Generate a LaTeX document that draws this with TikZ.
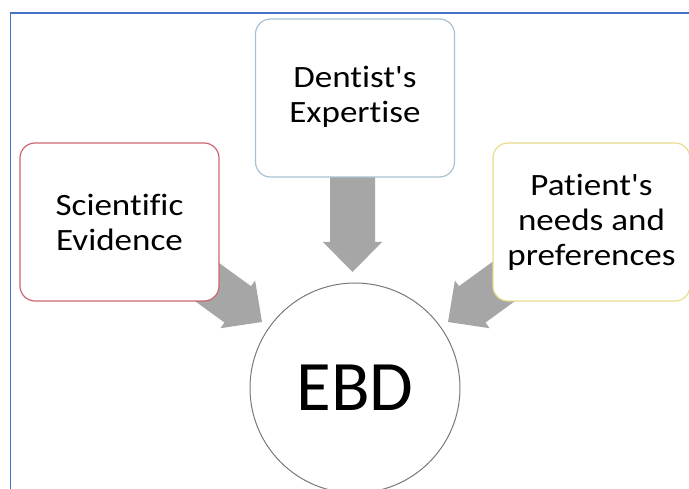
\documentclass[tikz,border=0pt]{standalone}
\usepackage{fontspec}
\setmainfont{Carlito}[Ligatures={NoCommon}]
\newfontfamily\boxfont[FakeStretch=1.13,Ligatures={NoCommon}]{Carlito}
\usetikzlibrary{calc}
\definecolor{frameblue}{HTML}{4472C4}
\definecolor{redb}{HTML}{CC6670}
\definecolor{blueb}{HTML}{A9C2D2}
\definecolor{yellowb}{HTML}{E6DE8A}
\definecolor{arrowgray}{HTML}{A6A6A6}
\definecolor{circgray}{HTML}{7A7A7A}
\tikzset{
  factorbox/.style={draw, line width=1.2pt, rounded corners=15pt, fill=white,
    minimum width=199pt, minimum height=158pt, align=center, inner sep=0pt,
    font=\boxfont\fontsize{31}{35}\selectfont},
  bigarrow/.style={fill=arrowgray, draw=none},
  ebdcircle/.style={circle, draw=circgray, line width=1pt, fill=white,
    minimum size=210pt, inner sep=0pt, font=\fontsize{71}{80}\selectfont}
}
% block arrow from #1 (tail) to #2 (tip)
\newcommand\blockarrow[2]{%
  \path coordinate (#1-base) at ($(#2)!30pt!(#1)$);
  \fill[bigarrow] ($(#1)!22.5pt!90:(#2)$) -- ($(#1-base)!22.5pt!90:(#2)$)
    -- ($(#1-base)!29.5pt!90:(#2)$) -- (#2) -- ($(#1-base)!29.5pt!-90:(#2)$)
    -- ($(#1-base)!22.5pt!-90:(#2)$) -- ($(#1)!22.5pt!-90:(#2)$) -- cycle;}
\begin{document}
\begin{tikzpicture}[x=1pt,y=-1pt]
\useasboundingbox (0,0) rectangle (689,489);
\clip (0,0) rectangle (689,489);
% frame
\draw[frameblue, line width=1.6pt] (10.5,489) -- (10.5,13) -- (689,13);
% arrow ends
\coordinate (sciTail) at (185,266);
\coordinate (sciTip) at (262,322);
\coordinate (denTail) at (352.5,170);
\coordinate (denTip) at (352.5,272);
\coordinate (patTail) at (525,266);
\coordinate (patTip) at (448,322);
\blockarrow{sciTail}{sciTip}
\blockarrow{denTail}{denTip}
\blockarrow{patTail}{patTip}
% boxes
\node[factorbox, draw=redb] (sci) at (119.5,222) {Scientific\\Evidence};
\node[factorbox, draw=blueb] (den) at (355,98) {\raisebox{4pt}{\begin{tabular}{@{}c@{}}Dentist's\\Expertise\end{tabular}}};
\node[factorbox, draw=yellowb, minimum width=197pt] (pat) at (591.5,222) {Patient's\\needs and\\preferences};
% center
\node[ebdcircle] (ebd) at (355,388) {EBD};
\end{tikzpicture}
\end{document}
